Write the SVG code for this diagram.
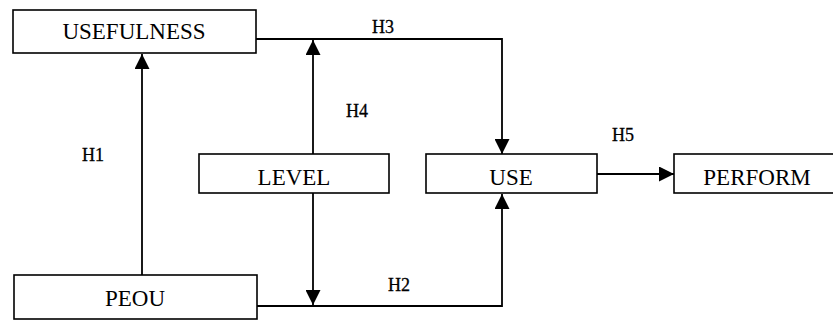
<svg xmlns="http://www.w3.org/2000/svg" width="833" height="321" viewBox="0 0 833 321">
<defs>
<marker id="arr" viewBox="0 0 15 15" refX="15" refY="7.5" markerWidth="15" markerHeight="15" markerUnits="userSpaceOnUse" orient="auto">
<path d="M0,0 L15,7.5 L0,15 Z" fill="#000"/>
</marker>
<style>
.box{fill:#fff;stroke:#000;stroke-width:1.6}
.nt{font-family:"Liberation Serif","Times New Roman",serif;font-size:23px;text-anchor:middle;fill:#000}
.lb{font-family:"Liberation Serif","Times New Roman",serif;font-size:18px;fill:#000;stroke:#000;stroke-width:0.3}
.ln{fill:none;stroke:#000;stroke-width:1.8}
</style>
</defs>
<rect width="833" height="321" fill="#fff"/>
<g id="connectors">
<path class="ln" d="M256,39 L502,39 L502,154" marker-end="url(#arr)"/>
<path class="ln" d="M142,275 L142,54" marker-end="url(#arr)"/>
<path class="ln" d="M313,154 L313,40" marker-end="url(#arr)"/>
<path class="ln" d="M313,193 L313,305" marker-end="url(#arr)"/>
<path class="ln" d="M257,306 L502,306 L502,194" marker-end="url(#arr)"/>
<path class="ln" d="M597,174 L674,174" marker-end="url(#arr)"/>
<text class="lb" x="372" y="33">H3</text>
<text class="lb" x="346" y="117">H4</text>
<text class="lb" x="82" y="161">H1</text>
<text class="lb" x="388" y="291">H2</text>
<text class="lb" x="612" y="141">H5</text>
</g>
<g id="usefulness">
<rect class="box" x="13" y="10" width="243" height="43"/>
<text class="nt" x="134" y="39">USEFULNESS</text>
</g>
<g id="level">
<rect class="box" x="199" y="154" width="190" height="39"/>
<text class="nt" x="294" y="185">LEVEL</text>
</g>
<g id="use">
<rect class="box" x="426" y="154" width="171" height="39"/>
<text class="nt" x="511" y="185">USE</text>
</g>
<g id="perform">
<rect class="box" x="674" y="154" width="167" height="39"/>
<text class="nt" x="757" y="185">PERFORM</text>
</g>
<g id="peou">
<rect class="box" x="14" y="275" width="243" height="44"/>
<text class="nt" x="135" y="306">PEOU</text>
</g>
</svg>
